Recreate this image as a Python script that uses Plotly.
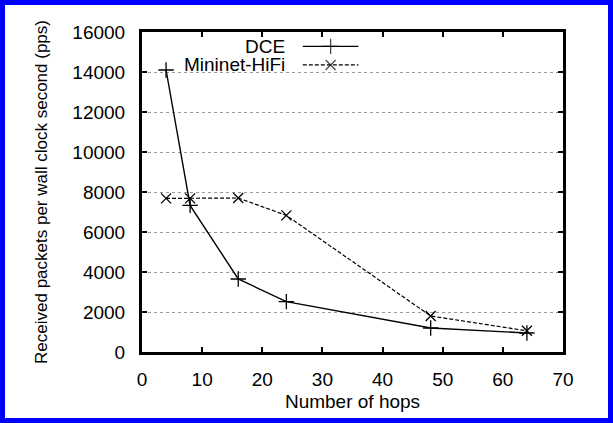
import plotly.graph_objects as go

# ---- data ----
hops = [4, 8, 16, 24, 48, 64]
dce = [14100, 7330, 3650, 2520, 1200, 950]
mininet = [7680, 7680, 7700, 6830, 1800, 1060]
x_ticks = [0, 10, 20, 30, 40, 50, 60, 70]
y_ticks = [0, 2000, 4000, 6000, 8000, 10000, 12000, 14000, 16000]
y_tick_labels = [str(v) for v in y_ticks]
series_names = ["DCE", "Mininet-HiFi"]

W, H = 613, 423
ML, MR, MT, MB = 142, 50, 32, 71
PW, PH = W - ML - MR, H - MT - MB
FONT = "Liberation Sans, Arial, Helvetica, sans-serif"
FS = 19

fig = go.Figure()

fig.add_trace(go.Scatter(
    x=hops, y=dce, mode="lines+markers", name=series_names[0],
    line=dict(color="black", width=1.4),
    marker=dict(symbol="cross-thin", size=11, line=dict(color="black", width=1.3)),
    showlegend=False, cliponaxis=False))
fig.add_trace(go.Scatter(
    x=hops, y=mininet, mode="lines+markers", name=series_names[1],
    line=dict(color="black", width=1.2, dash="4px,2px"),
    marker=dict(symbol="x-thin", size=10, line=dict(color="black", width=1.3)),
    showlegend=False, cliponaxis=False))

# ---- gnuplot-style key (text, then sample) ----
key_x = [0.382, 0.448, 0.514]
key_rows = [0.955, 0.897]
fig.add_trace(go.Scatter(
    x=key_x, y=[key_rows[0]] * 3, xaxis="x2", yaxis="y2", mode="lines+markers",
    line=dict(color="black", width=1.4),
    marker=dict(symbol="cross-thin", size=[0, 11, 0], line=dict(color="black", width=1.3)),
    showlegend=False, hoverinfo="skip"))
fig.add_trace(go.Scatter(
    x=key_x, y=[key_rows[1]] * 3, xaxis="x2", yaxis="y2", mode="lines+markers",
    line=dict(color="black", width=1.2, dash="4px,2px"),
    marker=dict(symbol="x-thin", size=[0, 10, 0], line=dict(color="black", width=1.3)),
    showlegend=False, hoverinfo="skip"))
for name, yy in zip(series_names, key_rows):
    fig.add_annotation(x=0.343, y=yy, xref="paper", yref="paper", text=name,
                       showarrow=False, xanchor="right", yanchor="middle", borderpad=0,
                       font=dict(family=FONT, size=FS, color="black"))

# white key box covering the grid
fig.add_shape(type="rect", xref="paper", yref="paper", x0=0.032, x1=0.537, y0=0.855, y1=0.99,
              fillcolor="white", line=dict(width=0), layer="between")

# blue frame around the whole picture
fig.add_shape(type="rect", xref="paper", yref="paper",
              x0=(-ML + 2.5) / PW, x1=1 + (MR - 2.5) / PW,
              y0=(-MB + 2.5) / PH, y1=1 + (MT - 2.5) / PH,
              line=dict(color="#0000ff", width=5), fillcolor="rgba(0,0,0,0)", layer="above")

axis_common = dict(
    showline=True, linecolor="black", linewidth=3, mirror="ticks",
    ticks="inside", ticklen=5, tickwidth=2, tickcolor="black",
    zeroline=False, automargin=False,
    tickfont=dict(family=FONT, size=FS, color="black"),
)

fig.update_layout(
    width=W, height=H,
    margin=dict(l=ML, r=MR, t=MT, b=MB, pad=0, autoexpand=False),
    paper_bgcolor="white", plot_bgcolor="white",
    font=dict(family=FONT, size=FS, color="black"),
    xaxis=dict(range=[0, 70], tickvals=x_ticks, showgrid=False,
               title=dict(text="Number of hops", font=dict(family=FONT, size=FS), standoff=6),
               ticklabelstandoff=8, **axis_common),
    yaxis=dict(range=[0, 16000], tickvals=y_ticks, ticktext=y_tick_labels, showgrid=True,
               gridcolor="#999999", gridwidth=1, griddash="dot",
               title=dict(text="Received packets per wall clock second (pps)",
                          font=dict(family=FONT, size=17), standoff=21),
               ticklabelstandoff=10, **axis_common),
    xaxis2=dict(range=[0, 1], overlaying="x", visible=False),
    yaxis2=dict(range=[0, 1], overlaying="y", visible=False),
)

fig.write_html("out.html", config={"displayModeBar": False},
               post_script="document.body.style.margin='0';document.body.style.overflow='hidden';")
